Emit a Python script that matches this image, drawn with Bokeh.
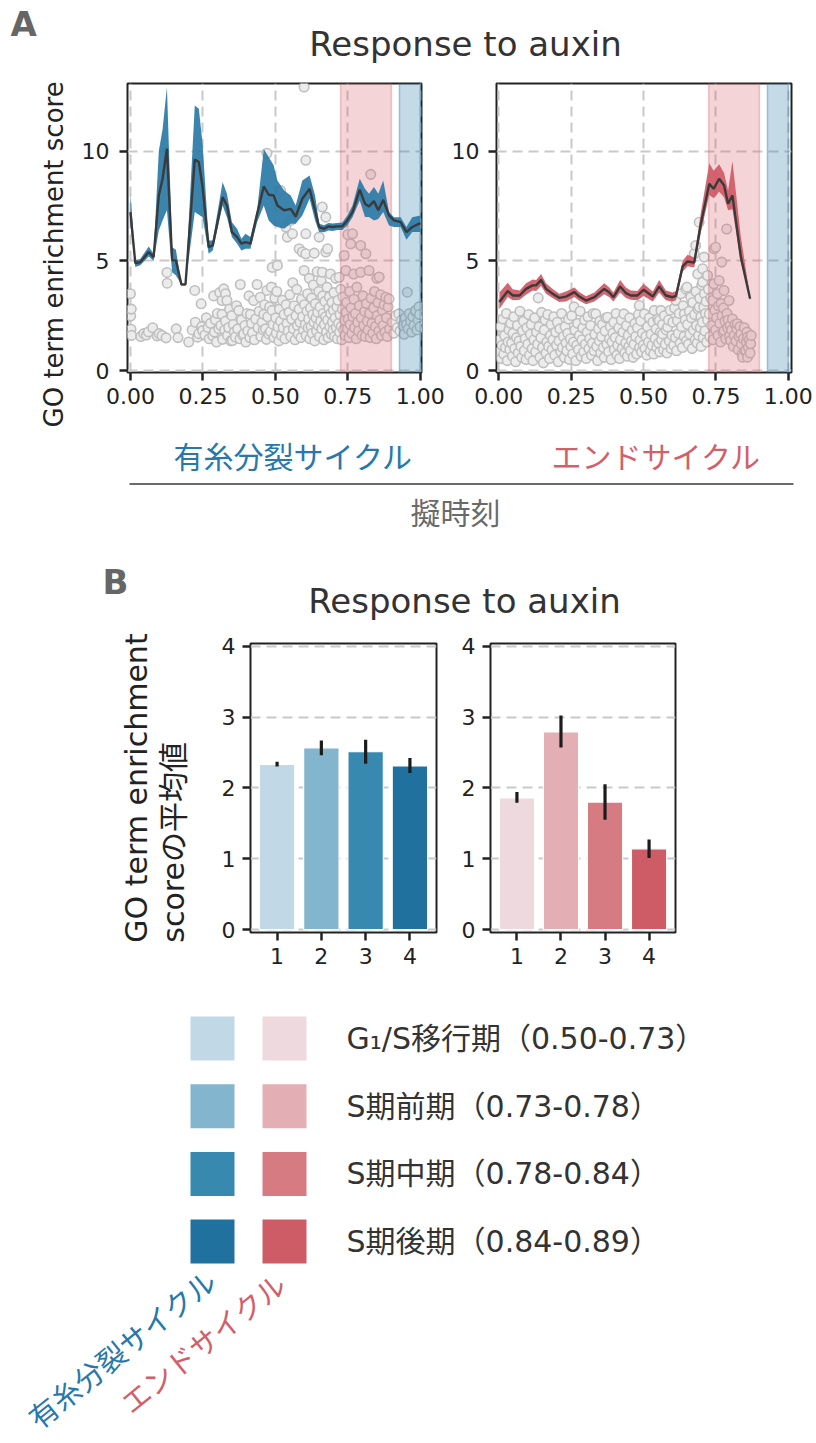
from bokeh.plotting import figure
from bokeh.layouts import column, row
from bokeh.models import Range1d, FixedTicker, NumeralTickFormatter, Title
from bokeh.embed import file_html
from bokeh.resources import INLINE
from bokeh.core.properties import value

# ---------------------------------------------------------------- data
tick_t = [0.0, 0.25, 0.5, 0.75, 1.0]
tick_score = [0, 5, 10]
tick_bar_y = [0, 1, 2, 3, 4]

# smoothed enrichment score along pseudotime, with confidence band
mito_t = [0.000, 0.017, 0.034, 0.063, 0.080, 0.098, 0.111, 0.126, 0.144, 0.157,
          0.176, 0.190, 0.222, 0.236, 0.249, 0.270, 0.284, 0.318, 0.333, 0.350,
          0.368, 0.383, 0.397, 0.414, 0.437, 0.460, 0.477, 0.494, 0.507, 0.530,
          0.553, 0.570, 0.593, 0.618, 0.637, 0.651, 0.668, 0.683, 0.697, 0.714,
          0.731, 0.748, 0.766, 0.791, 0.809, 0.823, 0.840, 0.855, 0.872, 0.892,
          0.909, 0.932, 0.952, 0.972, 1.000]
mito_mean = [7.22, 4.89, 4.94, 5.40, 5.17, 7.98, 8.74, 10.11, 5.02, 5.02,
             3.92, 3.92, 9.62, 9.50, 8.36, 5.62, 5.70, 7.90, 7.52, 6.31,
             6.08, 5.78, 5.85, 5.78, 7.14, 8.39, 8.01, 7.98, 7.52, 7.30,
             7.37, 7.02, 7.83, 8.28, 7.30, 6.54, 6.46, 6.57, 6.54, 6.57,
             6.57, 6.84, 7.22, 8.24, 7.60, 7.48, 7.72, 7.30, 7.78, 7.07,
             6.84, 6.76, 6.31, 6.54, 6.72]
mito_lo = [6.70, 4.72, 4.80, 5.20, 5.00, 6.38, 6.84, 7.30, 4.48, 4.33,
           3.92, 3.92, 7.22, 7.10, 6.99, 5.32, 5.47, 7.52, 6.99, 6.08,
           5.78, 5.47, 5.55, 5.55, 6.76, 7.52, 6.84, 6.61, 6.54, 6.46,
           6.69, 6.69, 7.07, 7.83, 6.84, 6.31, 6.30, 6.38, 6.36, 6.40,
           6.40, 6.61, 6.99, 7.75, 7.00, 7.00, 6.84, 6.90, 7.22, 6.61,
           6.54, 6.54, 5.96, 6.31, 6.31]
mito_hi = [8.10, 5.02, 5.08, 5.65, 5.32, 10.00, 11.00, 12.92, 5.62, 5.50,
           3.92, 3.92, 12.08, 11.93, 10.34, 5.93, 5.93, 8.59, 8.06, 6.76,
           6.46, 6.00, 6.23, 6.08, 7.30, 10.10, 9.73, 9.35, 8.66, 8.20,
           7.98, 7.52, 8.66, 8.89, 7.98, 6.69, 6.62, 6.72, 6.70, 6.72,
           6.75, 7.07, 7.52, 8.74, 8.28, 8.06, 8.36, 8.06, 8.66, 7.22,
           6.99, 6.99, 6.54, 6.99, 7.07]

endo_t = [0.002, 0.031, 0.048, 0.072, 0.094, 0.117, 0.129, 0.146, 0.163, 0.186,
          0.209, 0.232, 0.261, 0.278, 0.301, 0.330, 0.364, 0.381, 0.396, 0.419,
          0.439, 0.456, 0.479, 0.500, 0.532, 0.554, 0.577, 0.600, 0.612, 0.635,
          0.652, 0.675, 0.698, 0.727, 0.742, 0.761, 0.778, 0.792, 0.807, 0.836,
          0.868]
endo_mean = [3.12, 3.62, 3.42, 3.42, 3.72, 3.88, 3.88, 4.13, 3.72, 3.50,
             3.31, 3.37, 3.57, 3.37, 3.19, 3.34, 3.72, 3.57, 3.34, 3.83,
             3.53, 3.42, 3.42, 3.68, 3.37, 3.83, 3.42, 3.34, 3.40, 4.75,
             4.97, 4.92, 6.69, 8.51, 8.28, 8.74, 8.44, 7.60, 7.98, 5.17,
             3.27]
endo_lo = [2.80, 3.35, 3.20, 3.22, 3.45, 3.65, 3.62, 3.85, 3.50, 3.30,
           3.12, 3.15, 3.35, 3.18, 3.02, 3.15, 3.48, 3.35, 3.15, 3.55,
           3.30, 3.22, 3.20, 3.40, 3.15, 3.55, 3.20, 3.15, 3.20, 4.50,
           4.75, 4.70, 6.30, 8.00, 7.85, 8.15, 7.90, 7.30, 7.35, 4.95,
           3.20]
endo_hi = [3.55, 4.00, 3.70, 3.65, 3.98, 4.15, 4.12, 4.40, 3.98, 3.72,
           3.50, 3.60, 3.78, 3.58, 3.38, 3.55, 3.98, 3.80, 3.55, 4.12,
           3.78, 3.65, 3.62, 3.95, 3.60, 4.12, 3.65, 3.55, 3.62, 5.00,
           5.28, 5.15, 7.20, 9.45, 9.10, 9.40, 9.00, 8.20, 9.55, 6.10,
           3.35]

# per-cell scores (pseudotime, score)
mito_cells = [
    (0.000, 3.50), (0.001, 2.48), (0.002, 1.88), (0.003, 2.80), (0.004, 1.60), (0.036, 1.55),
    (0.046, 1.68), (0.055, 1.62), (0.062, 1.76), (0.077, 1.95), (0.092, 1.58), (0.099, 1.68),
    (0.109, 1.60), (0.123, 1.49), (0.126, 4.47), (0.127, 3.98), (0.158, 1.90), (0.164, 1.50),
    (0.201, 1.30),
    (0.213, 1.85), (0.222, 3.65), (0.224, 2.20), (0.232, 1.52), (0.236, 1.68), (0.244, 3.04),
    (0.246, 2.00), (0.249, 1.82), (0.257, 1.62), (0.262, 2.40), (0.268, 1.96), (0.272, 1.45),
    (0.276, 2.15), (0.284, 1.58), (0.287, 3.40), (0.290, 1.75), (0.293, 2.31), (0.297, 1.30),
    (0.300, 2.60), (0.305, 1.90),
    (0.308, 3.55), (0.312, 2.05), (0.316, 3.19), (0.316, 2.56), (0.318, 1.42), (0.322, 3.72),
    (0.325, 1.85), (0.328, 3.50), (0.328, 2.25), (0.333, 3.19), (0.335, 1.60), (0.339, 1.96),
    (0.342, 2.80), (0.346, 1.35), (0.350, 2.50), (0.352, 1.37), (0.355, 2.10), (0.358, 1.75),
    (0.362, 1.53), (0.366, 2.95), (0.370, 1.90), (0.374, 2.74), (0.378, 1.45), (0.379, 3.92),
    (0.383, 2.30), (0.387, 1.62), (0.391, 1.67), (0.395, 2.05), (0.398, 1.30),
    (0.402, 2.60), (0.405, 1.80), (0.409, 3.40), (0.412, 1.50), (0.414, 2.56), (0.418, 2.15),
    (0.421, 1.72), (0.425, 3.19), (0.428, 1.40), (0.432, 2.35), (0.437, 3.92), (0.440, 1.95),
    (0.444, 2.70), (0.448, 3.34), (0.450, 1.55), (0.454, 2.20), (0.458, 1.85), (0.460, 2.56),
    (0.463, 3.00), (0.466, 1.90), (0.469, 1.42), (0.471, 3.65), (0.471, 9.90), (0.474, 2.45),
    (0.477, 1.67), (0.480, 2.90), (0.483, 1.78), (0.486, 3.80), (0.489, 2.74), (0.489, 4.70),
    (0.492, 2.10), (0.495, 1.50), (0.498, 3.30),
    (0.501, 2.40), (0.503, 1.70), (0.505, 3.60), (0.507, 4.79), (0.509, 2.00), (0.512, 1.35),
    (0.514, 2.80), (0.518, 8.20), (0.518, 2.25), (0.521, 1.60), (0.524, 3.20), (0.527, 1.95),
    (0.530, 2.55), (0.533, 1.45), (0.536, 6.54), (0.537, 3.00), (0.540, 2.15), (0.541, 6.08),
    (0.544, 1.80), (0.547, 2.65), (0.550, 3.45), (0.553, 6.84), (0.553, 1.55), (0.556, 2.35),
    (0.559, 6.23), (0.560, 4.00), (0.562, 1.90), (0.565, 2.95), (0.568, 1.40), (0.571, 2.50),
    (0.574, 3.70), (0.576, 2.05), (0.579, 1.65), (0.582, 5.55), (0.582, 2.80), (0.585, 2.20),
    (0.588, 1.50), (0.590, 3.25), (0.593, 5.40), (0.594, 2.45), (0.597, 1.85), (0.599, 12.92),
    (0.599, 4.56), (0.600, 3.00),
    (0.603, 2.10), (0.605, 9.58), (0.605, 6.23), (0.605, 5.32), (0.606, 1.60), (0.609, 2.70),
    (0.611, 3.50), (0.613, 1.95), (0.615, 2.35), (0.617, 4.20), (0.619, 1.45), (0.621, 2.85),
    (0.623, 2.00), (0.625, 3.30), (0.627, 1.70), (0.629, 2.55), (0.631, 3.90), (0.633, 2.20),
    (0.634, 5.35), (0.636, 1.35), (0.638, 3.05), (0.640, 2.40), (0.642, 1.80), (0.644, 4.50),
    (0.646, 2.65), (0.648, 2.05), (0.650, 3.60), (0.651, 6.08), (0.652, 1.55), (0.654, 2.90),
    (0.656, 2.25), (0.658, 4.10), (0.660, 1.90), (0.662, 7.45), (0.662, 4.48), (0.663, 3.40),
    (0.665, 2.60), (0.667, 1.40), (0.669, 2.10), (0.671, 3.15), (0.673, 2.45), (0.674, 6.99),
    (0.674, 5.40), (0.676, 1.75), (0.678, 3.80), (0.680, 5.55), (0.680, 2.30), (0.682, 1.50),
    (0.684, 2.85), (0.686, 3.35), (0.688, 2.00), (0.690, 4.40), (0.691, 2.60), (0.693, 1.65),
    (0.695, 3.10), (0.697, 2.20), (0.699, 1.85), (0.700, 2.75),
    (0.702, 3.55), (0.704, 1.55), (0.706, 2.40), (0.708, 4.20), (0.710, 1.95), (0.712, 2.90),
    (0.714, 1.45), (0.716, 3.20), (0.718, 2.15), (0.720, 4.25), (0.721, 1.75), (0.723, 2.55),
    (0.725, 3.70), (0.727, 2.00), (0.729, 1.40), (0.731, 2.80), (0.733, 3.35), (0.735, 1.85),
    (0.737, 5.24), (0.738, 2.30), (0.740, 1.60), (0.743, 4.56), (0.744, 2.65), (0.746, 3.10),
    (0.748, 1.90), (0.750, 6.20), (0.751, 2.35), (0.754, 1.50), (0.756, 3.60), (0.758, 2.10),
    (0.760, 5.77), (0.761, 2.85), (0.764, 1.70), (0.766, 6.23), (0.767, 2.45), (0.770, 4.40),
    (0.771, 3.25), (0.773, 1.95), (0.776, 2.60), (0.779, 1.45), (0.781, 3.80), (0.784, 2.20),
    (0.787, 1.80), (0.790, 2.95), (0.794, 5.70), (0.794, 4.48), (0.796, 2.40), (0.799, 1.60),
    (0.802, 3.40), (0.805, 2.05), (0.808, 2.70), (0.810, 1.55), (0.812, 5.32), (0.814, 3.05),
    (0.817, 2.25), (0.820, 1.85), (0.823, 4.56), (0.825, 2.60), (0.827, 1.50), (0.829, 8.94),
    (0.830, 3.30), (0.833, 2.15), (0.836, 1.70), (0.839, 2.85), (0.842, 3.60), (0.845, 2.00),
    (0.848, 1.45), (0.850, 4.20), (0.851, 2.50), (0.854, 3.10), (0.857, 1.80), (0.858, 4.26),
    (0.860, 2.30), (0.863, 3.45), (0.866, 1.60), (0.869, 2.75), (0.872, 2.05), (0.875, 3.00),
    (0.878, 1.75), (0.881, 3.34), (0.883, 2.40), (0.886, 1.55), (0.889, 2.90), (0.892, 3.26),
    (0.894, 1.90),
    (0.903, 2.20), (0.908, 1.70), (0.915, 2.50), (0.920, 1.95), (0.926, 2.58), (0.930, 1.80),
    (0.935, 2.30), (0.940, 2.05), (0.944, 1.65), (0.948, 2.40), (0.952, 2.10), (0.955, 3.57),
    (0.958, 1.90), (0.962, 2.60), (0.966, 2.25), (0.970, 1.75), (0.974, 2.45), (0.978, 2.05),
    (0.982, 2.70), (0.984, 2.74), (0.988, 1.85), (0.992, 2.30), (0.995, 2.90), (0.997, 2.55),
    (0.999, 2.00),
]

endo_cells = [
    (0.002, 0.85), (0.004, 1.40), (0.006, 2.00), (0.008, 0.55), (0.011, 1.15), (0.014, 2.35),
    (0.017, 0.75), (0.020, 1.60), (0.023, 1.05), (0.026, 2.60), (0.029, 0.45), (0.032, 1.30),
    (0.035, 1.85), (0.038, 0.95), (0.041, 2.15), (0.044, 1.25), (0.047, 0.65), (0.049, 1.70),
    (0.052, 2.45), (0.055, 1.00), (0.058, 0.40), (0.061, 1.50), (0.064, 2.05), (0.067, 0.80),
    (0.070, 1.35), (0.073, 2.70), (0.076, 1.10), (0.079, 0.60), (0.082, 1.80), (0.085, 2.25),
    (0.088, 0.90), (0.091, 1.45), (0.094, 0.50), (0.097, 1.95),
    (0.100, 1.20), (0.103, 2.55), (0.106, 0.70), (0.109, 1.65), (0.112, 2.10), (0.115, 1.00),
    (0.118, 0.45), (0.121, 1.40), (0.124, 2.40), (0.127, 0.85), (0.130, 1.75), (0.134, 1.20),
    (0.136, 3.31), (0.139, 2.00), (0.142, 0.60), (0.145, 1.50), (0.148, 2.65),
    (0.151, 1.05), (0.154, 0.35), (0.157, 1.85), (0.160, 2.30), (0.163, 0.80), (0.166, 1.30),
    (0.169, 2.55), (0.172, 1.10), (0.175, 0.55), (0.178, 1.60), (0.181, 2.10), (0.184, 0.95),
    (0.187, 1.40), (0.190, 2.45), (0.193, 0.70), (0.196, 1.75), (0.199, 1.15),
    (0.202, 2.20), (0.205, 0.40), (0.208, 1.35), (0.211, 1.90), (0.214, 0.85), (0.217, 2.60),
    (0.220, 1.05), (0.223, 1.55), (0.226, 0.60), (0.229, 2.00), (0.232, 1.25), (0.235, 0.90),
    (0.238, 1.70), (0.241, 2.35), (0.244, 0.50), (0.247, 1.45), (0.249, 1.10),
    (0.252, 2.50), (0.255, 0.75), (0.258, 1.30), (0.260, 2.90), (0.263, 1.85), (0.266, 0.45),
    (0.269, 1.15), (0.272, 2.15), (0.275, 0.95), (0.278, 1.60), (0.281, 2.70), (0.284, 0.65),
    (0.287, 1.40), (0.290, 1.95), (0.293, 0.85), (0.296, 2.30), (0.299, 1.20),
    (0.302, 0.55), (0.305, 1.75), (0.308, 2.45), (0.311, 1.00), (0.314, 1.45), (0.317, 2.05),
    (0.320, 0.70), (0.323, 1.25), (0.326, 2.60), (0.329, 0.90), (0.332, 1.65), (0.335, 2.58),
    (0.338, 1.10), (0.341, 0.45), (0.344, 1.90), (0.347, 1.35), (0.349, 2.25),
    (0.352, 0.80), (0.355, 1.55), (0.358, 2.10), (0.361, 1.05), (0.364, 0.60), (0.367, 1.80),
    (0.370, 2.40), (0.373, 1.20), (0.376, 2.43), (0.379, 0.85), (0.382, 1.45), (0.385, 2.00),
    (0.388, 0.50), (0.391, 1.30), (0.394, 1.70), (0.397, 2.20), (0.399, 0.95),
    (0.402, 1.50), (0.405, 2.60), (0.408, 0.70), (0.411, 1.15), (0.414, 1.95), (0.417, 0.55),
    (0.420, 1.40), (0.423, 2.30), (0.426, 1.00), (0.429, 1.75), (0.432, 2.58), (0.435, 0.80),
    (0.438, 1.25), (0.441, 2.05), (0.444, 0.65), (0.447, 1.60), (0.449, 1.10),
    (0.452, 2.40), (0.455, 0.90), (0.458, 1.35), (0.461, 1.85), (0.464, 0.60), (0.467, 1.20),
    (0.470, 2.15), (0.473, 1.55), (0.476, 0.75), (0.479, 1.95), (0.482, 2.55), (0.485, 2.96),
    (0.486, 1.05), (0.488, 1.40), (0.490, 2.26), (0.493, 0.85), (0.496, 1.70), (0.499, 1.15),
    (0.503, 2.58), (0.505, 1.00), (0.508, 1.55), (0.511, 0.70), (0.514, 2.00), (0.517, 1.30),
    (0.520, 2.40), (0.523, 0.90), (0.526, 1.65), (0.529, 1.15), (0.532, 2.20), (0.535, 0.75),
    (0.537, 2.74), (0.540, 1.45), (0.543, 1.90), (0.546, 1.05), (0.549, 2.35),
    (0.552, 1.25), (0.554, 2.28), (0.556, 0.85), (0.558, 1.75), (0.560, 2.74), (0.562, 1.40),
    (0.565, 2.10), (0.566, 1.67), (0.569, 0.95), (0.572, 2.50), (0.575, 1.20), (0.578, 1.85),
    (0.581, 0.80), (0.583, 1.98), (0.586, 2.30), (0.589, 1.35), (0.592, 2.75), (0.595, 1.00),
    (0.598, 1.60),
    (0.601, 2.20), (0.604, 1.15), (0.607, 2.85), (0.610, 1.50), (0.612, 3.19), (0.614, 0.90),
    (0.617, 2.28), (0.620, 1.70), (0.623, 2.60), (0.626, 1.25), (0.629, 3.50), (0.631, 2.00),
    (0.634, 1.05), (0.637, 2.95), (0.640, 1.55), (0.641, 2.58), (0.644, 2.30), (0.646, 3.72),
    (0.648, 1.35), (0.650, 3.80),
    (0.652, 2.10), (0.655, 1.20), (0.658, 2.70), (0.660, 1.65), (0.663, 3.34), (0.665, 2.40),
    (0.668, 1.00), (0.670, 3.10), (0.672, 1.85), (0.675, 5.32), (0.676, 2.55), (0.678, 1.40),
    (0.680, 5.70), (0.681, 3.60), (0.683, 2.05), (0.685, 1.25), (0.687, 4.40), (0.688, 2.80),
    (0.690, 1.60), (0.692, 6.76), (0.692, 2.89), (0.694, 3.30), (0.696, 1.95), (0.698, 2.45),
    (0.699, 1.10),
    (0.701, 3.90), (0.703, 2.20), (0.704, 4.64), (0.704, 4.03), (0.706, 1.50), (0.708, 2.90),
    (0.709, 5.17), (0.710, 3.50), (0.712, 1.80), (0.714, 2.60), (0.716, 3.15), (0.718, 1.30),
    (0.721, 4.33), (0.721, 2.30), (0.724, 3.70), (0.727, 2.58), (0.729, 1.55), (0.732, 3.30),
    (0.735, 2.05), (0.738, 3.19), (0.740, 1.40), (0.743, 3.95), (0.744, 5.55), (0.746, 2.75),
    (0.749, 5.62), (0.749, 1.85),
    (0.752, 2.40), (0.755, 3.50), (0.757, 1.60), (0.759, 2.95), (0.761, 4.10), (0.763, 2.15),
    (0.766, 1.30), (0.768, 3.05), (0.770, 4.94), (0.771, 2.50), (0.774, 1.75), (0.776, 2.85),
    (0.778, 3.65), (0.778, 1.82), (0.781, 2.25), (0.784, 1.45), (0.787, 6.45), (0.788, 2.60),
    (0.790, 1.95), (0.792, 2.30), (0.795, 3.19), (0.797, 1.55), (0.799, 2.05),
    (0.801, 1.37), (0.804, 1.85), (0.807, 2.35), (0.810, 1.10), (0.813, 1.60), (0.816, 2.10),
    (0.819, 1.35), (0.822, 1.90), (0.824, 2.13), (0.827, 0.95), (0.830, 1.55), (0.833, 2.00),
    (0.836, 1.67), (0.838, 1.20), (0.840, 0.75), (0.842, 0.61), (0.845, 1.45), (0.848, 1.95),
    (0.850, 0.90), (0.853, 0.91), (0.855, 1.30), (0.857, 1.75), (0.859, 1.52), (0.859, 0.61),
    (0.862, 1.05), (0.865, 1.40), (0.868, 0.80), (0.870, 1.22), (0.872, 1.60),
]

# S-phase window of the endocycle and mitotic window
endo_span = (0.725, 0.900)
mito_span = (0.928, 1.000)

# mean score per S-phase stage (1-4) with error bar ends
phase_ids = [1, 2, 3, 4]
phase_labels = ["G\u2081/S移行期（0.50-0.73）", "S期前期（0.73-0.78）",
                "S期中期（0.78-0.84）", "S期後期（0.84-0.89）"]
mito_bar_mean = [2.33, 2.565, 2.51, 2.31]
mito_bar_lo = [2.30, 2.46, 2.34, 2.21]
mito_bar_hi = [2.37, 2.67, 2.68, 2.42]
endo_bar_mean = [1.86, 2.79, 1.80, 1.14]
endo_bar_lo = [1.79, 2.57, 1.55, 1.01]
endo_bar_hi = [1.94, 3.02, 2.05, 1.27]

mito_colors = ["#c1d9e6", "#83b5ce", "#3789b0", "#21719e"]
endo_colors = ["#eed9de", "#e3afb4", "#d77b83", "#cd5c66"]

# ---------------------------------------------------------------- style
LATIN = "DejaVu Sans, Noto Sans CJK JP"
JP = "Noto Sans CJK JP"
INK = "#222222"
TITLE_C = "#333333"
GRAY_C = "#6a6a6a"
MITO_C = "#2878aa"
ENDO_C = "#d25f69"
PAGE_W = 816


class Blank:
    """a plain drawing area whose data units are page pixels"""

    def __init__(self, width, height, page_top, page_left=0):
        self.top = page_top
        self.left = page_left
        self.h = height
        self.p = figure(width=width, height=height, x_range=Range1d(0, width),
                        y_range=Range1d(0, height), min_border=0,
                        x_axis_location=None, y_axis_location=None,
                        output_backend="svg", toolbar_location=None)
        self.p.grid.visible = False
        self.p.outline_line_color = None

    def text(self, px, py, txt, font, size, color, align="center", angle=0, style="normal"):
        self.p.text(x=[px - self.left], y=[self.top + self.h - py], text=[txt],
                    text_font=value(font), text_font_size=size, text_font_style=style,
                    text_color=color, text_align=align, text_baseline="middle",
                    angle=angle, angle_units="deg")


def panel(width, height, left, right, top, bottom, xr, yr, xticks, yticks,
          xfmt=None, ystandoff=10, xstandoff=7):
    p = figure(width=width, height=height, x_range=Range1d(*xr), y_range=Range1d(*yr),
               min_border_left=left, min_border_right=right,
               min_border_top=top, min_border_bottom=bottom,
               output_backend="svg", toolbar_location=None)
    p.outline_line_color = INK
    p.outline_line_width = 2
    p.xaxis.ticker = FixedTicker(ticks=xticks)
    p.yaxis.ticker = FixedTicker(ticks=yticks)
    if xfmt:
        p.xaxis.formatter = NumeralTickFormatter(format=xfmt)
    for ax in (p.xaxis[0], p.yaxis[0]):
        ax.axis_line_color = None
        ax.major_tick_line_color = INK
        ax.major_tick_line_width = 2.5
        ax.major_tick_out = 8
        ax.major_tick_in = 0
        ax.minor_tick_line_color = None
        ax.major_label_text_font = LATIN
        ax.major_label_text_font_size = "22px"
        ax.major_label_text_color = INK
    p.yaxis.major_label_standoff = ystandoff
    p.xaxis.major_label_standoff = xstandoff
    for g in (p.xgrid[0], p.ygrid[0]):
        g.grid_line_color = "#c9c9c9"
        g.grid_line_width = 2
        g.grid_line_dash = "10 6"
    return p


def side_label(p, txt, size, standoff, align="center", offset=0, line_height=1.2):
    p.add_layout(Title(text=txt, align=align, standoff=standoff, offset=offset,
                       text_font=LATIN, text_font_size=size, text_font_style="normal",
                       text_color=INK, text_line_height=line_height), "left")


# ---------------------------------------------------------------- panel A header
hA = Blank(PAGE_W, 70, 0)
hA.text(10, 23, "A", LATIN, "34px", "#666666", align="left", style="bold")
hA.text(465, 43, "Response to auxin", LATIN, "34px", TITLE_C)

# ---------------------------------------------------------------- panel A plots
ROWA_H = 360
A_YR = (-0.09, 13.08)
AL_XR = (-0.010, 1.004)
AR_XR = (-0.008, 1.011)


def time_panel(width, left, right, xr, cells, t, mean, lo, hi, band_color):
    p = panel(width, ROWA_H, left, right, 13, ROWA_H - 13 - 289, xr, A_YR,
              tick_t, tick_score, xfmt="0.00")
    p.scatter([c[0] for c in cells], [c[1] for c in cells], size=9.5, marker="circle",
              fill_color="#ececec", line_color="#bfbfbf", line_width=1.6)
    p.quad(left=[endo_span[0]], right=[endo_span[1]], bottom=[A_YR[0] - 1], top=[A_YR[1] + 1],
           fill_color="#d9606e", fill_alpha=0.27, line_color="#d9606e", line_alpha=0.35, line_width=1.5)
    p.quad(left=[mito_span[0]], right=[mito_span[1]], bottom=[A_YR[0] - 1], top=[A_YR[1] + 1],
           fill_color="#3a86b0", fill_alpha=0.30, line_color="#3a86b0", line_alpha=0.45, line_width=1.5)
    p.varea(x=t, y1=lo, y2=hi, fill_color=band_color, fill_alpha=0.93)
    p.line(t, mean, line_color="#3a3a3a", line_width=2.4)
    return p


aL = time_panel(448, 127, 27, AL_XR, mito_cells, mito_t, mito_mean, mito_lo, mito_hi, "#2b7ba8")
aR = time_panel(368, 47, 25, AR_XR, endo_cells, endo_t, endo_mean, endo_lo, endo_hi, "#d05a66")
aR.yaxis.major_label_standoff = 9
side_label(aL, "GO term enrichment score", "26px", 20, align="left", offset=-55)

# ---------------------------------------------------------------- panel A footer
fA = Blank(PAGE_W, 125, 430)
fA.text(293, 454, "有糸分裂サイクル", JP, "30px", MITO_C)
fA.text(656, 454, "エンドサイクル", JP, "30px", ENDO_C)
fA.p.line(x=[129, 793], y=[fA.top + fA.h - 483.5] * 2, line_color=GRAY_C, line_width=2.2)
fA.text(455, 510, "擬時刻", JP, "30px", GRAY_C)

# ---------------------------------------------------------------- panel B header
hB = Blank(PAGE_W, 75, 555)
hB.text(102, 581, "B", LATIN, "34px", "#666666", align="left", style="bold")
hB.text(464, 600, "Response to auxin", LATIN, "34px", TITLE_C)

# ---------------------------------------------------------------- panel B bars
ROWB_H = 345
B_XR = (0.4, 4.6)
B_YR = (-0.042, 4.038)


def bar_panel(width, left, right, means, lo, hi, colors):
    p = panel(width, ROWB_H, left, right, 13, ROWB_H - 13 - 289, B_XR, B_YR,
              phase_ids, tick_bar_y, ystandoff=7, xstandoff=7)
    p.xgrid.visible = False
    p.vbar(x=phase_ids, top=means, bottom=0, width=0.8, fill_color=colors,
           line_color="white", line_width=1.2)
    p.segment(x0=phase_ids, y0=lo, x1=phase_ids, y1=hi, line_color="#1c1c1c", line_width=3.2)
    return p


bL = bar_panel(448, 250, 12, mito_bar_mean, mito_bar_lo, mito_bar_hi, mito_colors)
bR = bar_panel(368, 42, 141, endo_bar_mean, endo_bar_lo, endo_bar_hi, endo_colors)
side_label(bL, "GO term enrichment\nscoreの平均値", "30px", 55, line_height=1.05)

# ---------------------------------------------------------------- legend + cycle names
fB = Blank(PAGE_W, 468, 975)
row_step = 67.7
first_center = 1038
centers = [fB.top + fB.h - (first_center + i * row_step) for i in range(len(phase_ids))]
fB.p.rect(x=[212] * 4, y=centers, width=44, height=44, width_units="screen", height_units="screen",
          fill_color=mito_colors, line_color=None)
fB.p.rect(x=[284] * 4, y=centers, width=44, height=44, width_units="screen", height_units="screen",
          fill_color=endo_colors, line_color=None)
for i, lab in enumerate(phase_labels):
    fB.text(346, first_center + i * row_step, lab, LATIN, "30px", TITLE_C, align="left")
fB.text(121, 1347, "有糸分裂サイクル", JP, "29px", MITO_C, angle=39)
fB.text(202, 1341, "エンドサイクル", JP, "29px", ENDO_C, angle=39)

page = column(hA.p, row(aL, aR), fA.p, hB.p, row(bL, bR), fB.p)

with open("out.html", "w") as f:
    f.write(file_html(page, INLINE))
